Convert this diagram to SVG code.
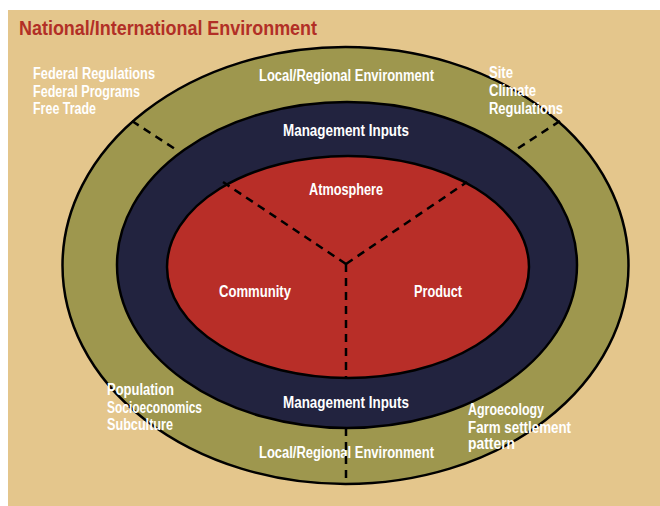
<svg xmlns="http://www.w3.org/2000/svg" width="660" height="506" viewBox="0 0 660 506">
  <style>
    .ring { stroke: #000; stroke-width: 2.5; }
    .lbl { font-family: "Liberation Sans", Arial, sans-serif; font-weight: bold; font-size: 16px; fill: #fff; }
    .title { font-family: "Liberation Sans", Arial, sans-serif; font-weight: bold; font-size: 21px; fill: #b22f26; }
    .dash { stroke: #000; stroke-width: 2.5; stroke-dasharray: 8 6; fill: none; }
  </style>

  <!-- page background -->
  <rect x="8" y="10" width="652" height="496" fill="#e4c68c"/>

  <g id="national-environment">
    <text class="title" x="19" y="35" textLength="298" lengthAdjust="spacingAndGlyphs">National/International Environment</text>
    <text class="lbl" x="33" y="79" textLength="122" lengthAdjust="spacingAndGlyphs">Federal Regulations</text>
    <text class="lbl" x="33" y="97" textLength="107" lengthAdjust="spacingAndGlyphs">Federal Programs</text>
    <text class="lbl" x="33" y="114" textLength="63" lengthAdjust="spacingAndGlyphs">Free Trade</text>
  </g>

  <g id="local-regional">
    <ellipse class="ring" cx="345.5" cy="265.5" rx="283" ry="218.5" fill="#9e974e"/>
    <text class="lbl" x="259" y="81" textLength="175" lengthAdjust="spacingAndGlyphs">Local/Regional Environment</text>
    <text class="lbl" x="259" y="458" textLength="175" lengthAdjust="spacingAndGlyphs">Local/Regional Environment</text>
  </g>

  <g id="management-inputs">
    <ellipse class="ring" cx="347" cy="265" rx="230" ry="163" fill="#22233f"/>
    <text class="lbl" x="283" y="136" textLength="126" lengthAdjust="spacingAndGlyphs">Management Inputs</text>
    <text class="lbl" x="283" y="408" textLength="126" lengthAdjust="spacingAndGlyphs">Management Inputs</text>
  </g>

  <g id="core">
    <ellipse class="ring" cx="348" cy="267" rx="181" ry="111" fill="#b82e28"/>
    <text class="lbl" x="309" y="195" textLength="74" lengthAdjust="spacingAndGlyphs">Atmosphere</text>
    <text class="lbl" x="219" y="297" textLength="72" lengthAdjust="spacingAndGlyphs">Community</text>
    <text class="lbl" x="414" y="297" textLength="48" lengthAdjust="spacingAndGlyphs">Product</text>
  </g>

  <g id="site-factors">
    <text class="lbl" x="489" y="78" textLength="24" lengthAdjust="spacingAndGlyphs">Site</text>
    <text class="lbl" x="489" y="96" textLength="47" lengthAdjust="spacingAndGlyphs">Climate</text>
    <text class="lbl" x="489" y="114" textLength="74" lengthAdjust="spacingAndGlyphs">Regulations</text>
  </g>

  <g id="social-factors">
    <text class="lbl" x="107" y="395" textLength="67" lengthAdjust="spacingAndGlyphs">Population</text>
    <text class="lbl" x="107" y="413" textLength="95" lengthAdjust="spacingAndGlyphs">Socioeconomics</text>
    <text class="lbl" x="107" y="430" textLength="66" lengthAdjust="spacingAndGlyphs">Subculture</text>
  </g>

  <g id="land-factors">
    <text class="lbl" x="468" y="415" textLength="76" lengthAdjust="spacingAndGlyphs">Agroecology</text>
    <text class="lbl" x="468" y="433" textLength="103" lengthAdjust="spacingAndGlyphs">Farm settlement</text>
    <text class="lbl" x="468" y="449" textLength="47" lengthAdjust="spacingAndGlyphs">pattern</text>
  </g>

  <g id="connectors">
    <!-- dividers inside the core -->
    <path class="dash" d="M346 264 L223 182"/>
    <path class="dash" d="M346 264 L467 182"/>
    <path class="dash" d="M346 264 L346 378"/>
    <!-- dividers across the outer ring -->
    <path class="dash" d="M132 121 L175 149"/>
    <path class="dash" d="M560 121 L517 149"/>
    <path class="dash" d="M346 428 L346 484"/>
  </g>
</svg>
